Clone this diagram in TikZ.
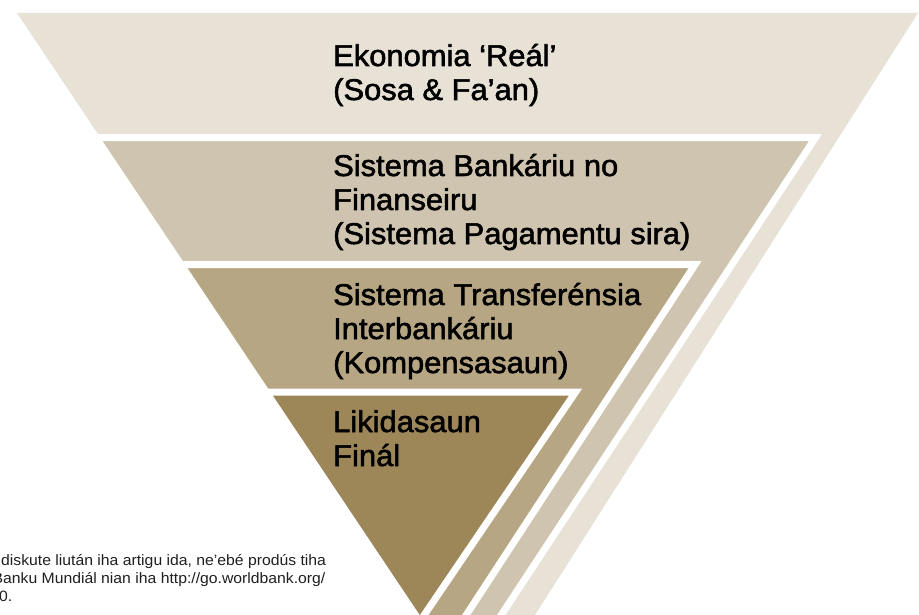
\documentclass[tikz,border=0pt]{standalone}
\usepackage{fontspec}
\setmainfont{Liberation Sans}[FakeStretch=1.03]
\newfontfamily\tierfont{Liberation Sans}[FakeStretch=1.03,FakeBold=1.8]
\newfontfamily\notefont{Liberation Sans}[FakeStretch=1.05]
\usetikzlibrary{calc}

\definecolor{tierA}{HTML}{E7E1D6}
\definecolor{tierB}{HTML}{CFC4AF}
\definecolor{tierC}{HTML}{B6A683}
\definecolor{tierD}{HTML}{9D8759}

\begin{document}
\begin{tikzpicture}[x=1pt,y=-1pt,
  gap/.style={draw=white,line width=7pt,line join=miter},
  lbl/.style={anchor=base west,inner sep=0pt,text=black,
    font=\tierfont\fontsize{30}{34}\selectfont},
  note/.style={anchor=base west,inner sep=0pt,text=black!88,
    font=\notefont\fontsize{15}{18}\selectfont}]
\useasboundingbox (0,0) rectangle (919,615);
\clip (0,0) rectangle (919,615);

% shared left edge of all tiers
\coordinate (L0) at (17,13);
\coordinate (L1) at (420,615);

% tier 1: real economy
\coordinate (A1) at (918,13);
\coordinate (A2) at (535,615);
\coordinate (Ax) at (intersection of A1--A2 and L0--L1);
\fill[tierA] (L0) -- (A1) -- (Ax) -- cycle;

% tier 2: banking and financial system
\coordinate (B1) at (813.2,141);
\coordinate (B2) at (501.2,615);
\coordinate (Bh1) at (0,137.5);
\coordinate (Bh2) at (919,137.5);
\coordinate (B0) at (intersection of L0--L1 and Bh1--Bh2);
\coordinate (Bt) at (intersection of B1--B2 and Bh1--Bh2);
\coordinate (Bx) at (intersection of B1--B2 and L0--L1);
\fill[tierB] (B0) -- (Bt) -- (Bx) -- cycle;
\draw[gap] ($(B0)+(-14,0)$) -- (Bt) -- (Bx);

% tier 3: interbank transfer
\coordinate (C1) at (692.2,269);
\coordinate (C2) at (466.2,615);
\coordinate (Ch1) at (0,264.7);
\coordinate (Ch2) at (919,264.7);
\coordinate (C0) at (intersection of L0--L1 and Ch1--Ch2);
\coordinate (Ct) at (intersection of C1--C2 and Ch1--Ch2);
\coordinate (Cx) at (intersection of C1--C2 and L0--L1);
\fill[tierC] (C0) -- (Ct) -- (Cx) -- cycle;
\draw[gap] ($(C0)+(-14,0)$) -- (Ct) -- (Cx);

% tier 4: final settlement
\coordinate (D1) at (572.2,397);
\coordinate (D2) at (424.2,615);
\coordinate (Dh1) at (0,392.2);
\coordinate (Dh2) at (919,392.2);
\coordinate (D0) at (intersection of L0--L1 and Dh1--Dh2);
\coordinate (Dt) at (intersection of D1--D2 and Dh1--Dh2);
\coordinate (Dx) at (intersection of D1--D2 and L0--L1);
\fill[tierD] (D0) -- (Dt) -- (Dx) -- cycle;
\draw[gap] ($(D0)+(-14,0)$) -- (Dt) -- (Dx);

% tier labels
\node[lbl] (ta1) at (333,66)  {Ekonomia ‘Reál’};
\node[lbl] (ta2) at (333,100) {(Sosa \& Fa’an)};
\node[lbl] (tb1) at (333,176) {Sistema Bankáriu no};
\node[lbl] (tb2) at (333,210) {Finanseiru};
\node[lbl] (tb3) at (333,244) {(Sistema Pagamentu sira)};
\node[lbl] (tc1) at (333,305) {Sistema Transferénsia};
\node[lbl] (tc2) at (333,339) {Interbankáriu};
\node[lbl] (tc3) at (333,373) {(Kompensasaun)};
\node[lbl] (td1) at (333,432) {Likidasaun};
\node[lbl] (td2) at (333,466) {Finál};

% source note
\node[note] (n1) at (1,565)  {diskute liután iha artigu ida, ne’ebé prodús tiha};
\node[note] (n2) at (-7.5,583) {Banku Mundiál nian iha http://go.worldbank.org/};
\node[note] (n3) at (-1,601) {0.};
\end{tikzpicture}
\end{document}
